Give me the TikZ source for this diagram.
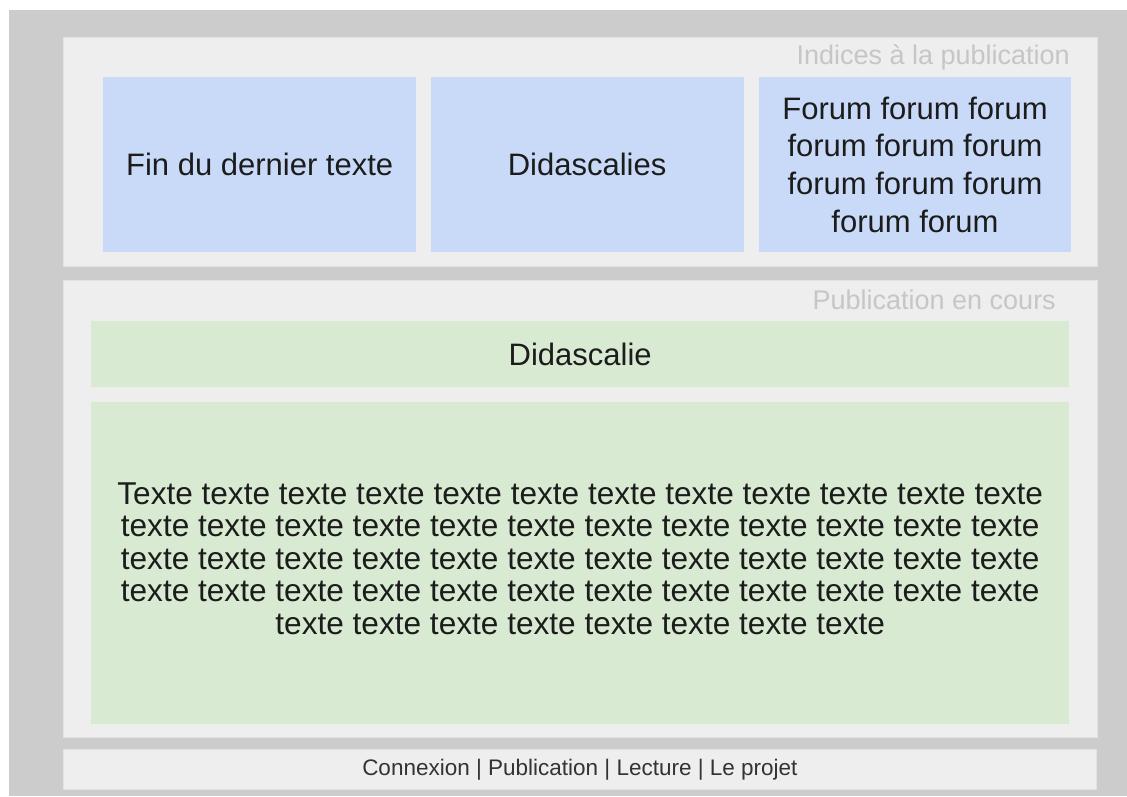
\documentclass[tikz,border=0pt]{standalone}
\usepackage{fontspec}
\setmainfont{Liberation Sans}
\usetikzlibrary{positioning}
\definecolor{fond}{HTML}{CCCCCC}
\definecolor{cadre}{HTML}{EEEEEE}
\definecolor{bord}{HTML}{E2E2E2}
\definecolor{bleu}{HTML}{C9DAF8}
\definecolor{vert}{HTML}{D9EAD3}
\definecolor{titre}{HTML}{C6C6C6}
\definecolor{encre}{HTML}{1C1C1C}
\tikzstyle{zone}=[rectangle,fill=cadre,draw=bord,line width=0.8pt,inner sep=0pt,anchor=north west]
\tikzstyle{indice}=[rectangle,fill=bleu,inner sep=0pt,anchor=north west,minimum width=313pt,minimum height=175pt,align=center,text=encre,font=\fontsize{31}{37.7}\selectfont]
\tikzstyle{publi}=[rectangle,fill=vert,inner sep=0pt,anchor=north west,minimum width=978pt,align=center,text=encre,font=\fontsize{31.6}{32.5}\selectfont]
\tikzstyle{entete}=[inner sep=0pt,anchor=east,text=titre,font=\fontsize{27}{30}\selectfont]

\begin{document}
\begin{tikzpicture}[x=1pt,y=-1pt]

    % Fond
    \fill[white] (0,0) rectangle (1127,796);
    \useasboundingbox (0,0) rectangle (1127,796);
    \fill[fond] (9,10) rectangle (1127,796);

    % Cadres
    \node[zone,minimum width=1034pt,minimum height=229pt] (haut) at (63,37) {};
    \node[zone,minimum width=1034pt,minimum height=457pt] (milieu) at (63,280) {};
    \node[zone,minimum width=1033pt,minimum height=40pt,text=encre!90,font=\fontsize{22.5}{25}\selectfont] (menu) at (63,749) {Connexion | Publication | Lecture | Le projet};

    % Indices
    \node[entete] (titreh) at (1070,57) {Indices à la publication};
    \node[indice] (fin) at (103,77) {Fin du dernier texte};
    \node[indice] (didas) [right=14pt of fin] {Didascalies};
    \node[indice,minimum width=312pt] (forum) [right=15pt of didas] {Forum forum forum\\forum forum forum\\forum forum forum\\forum forum};

    % Publication
    \node[entete] (titrem) at (1056,300) {Publication en cours};
    \node[publi,minimum height=66pt,font=\fontsize{31}{37.7}\selectfont] (didasc) at (91,321) {Didascalie};
    \node[publi,minimum height=322pt] (texte) [below=14pt of didasc] {Texte texte texte texte texte texte texte texte texte texte texte texte\\
      texte texte texte texte texte texte texte texte texte texte texte texte\\
      texte texte texte texte texte texte texte texte texte texte texte texte\\
      texte texte texte texte texte texte texte texte texte texte texte texte\\
      texte texte texte texte texte texte texte texte\\[-24.5pt]};

\end{tikzpicture}
\end{document}
